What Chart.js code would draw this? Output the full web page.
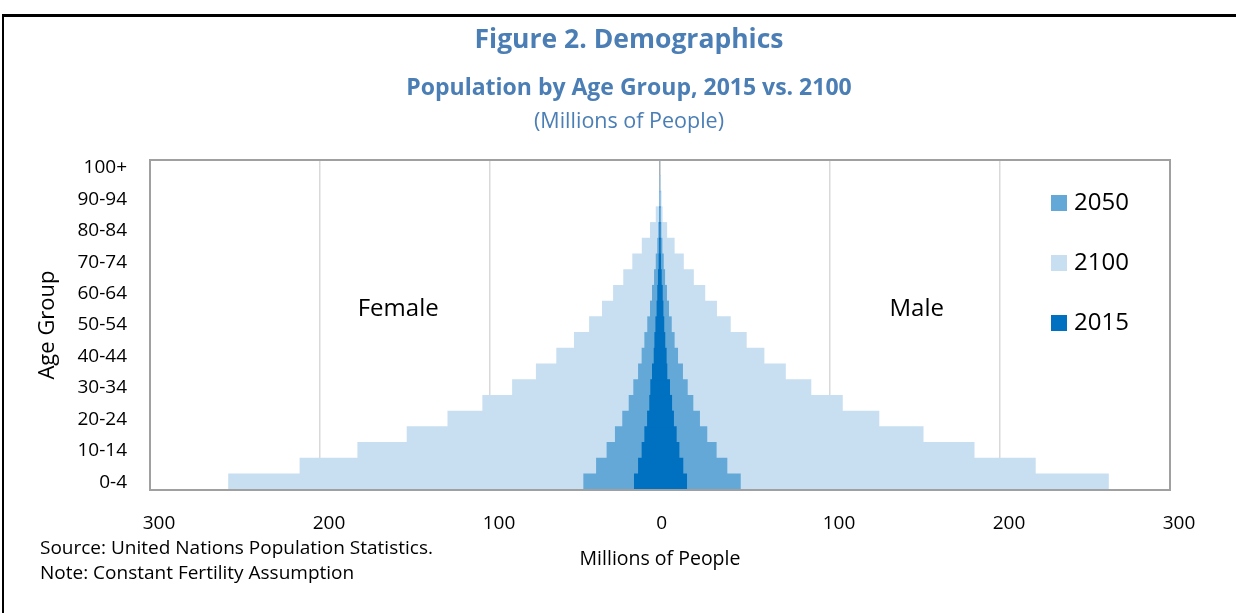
<!DOCTYPE html>
<html>
<head>
<meta charset="utf-8">
<script src="https://cdn.jsdelivr.net/npm/chart.js@4"></script>
<style>
  body { margin: 0; background: #fff; }
  canvas { display: block; }
</style>
</head>
<body>
<canvas id="myChart" width="1236" height="613"></canvas>
<script>
// age groups, bottom row first
var ageGroups = ['0-4', '5-9', '10-14', '15-19', '20-24', '25-29', '30-34', '35-39', '40-44', '45-49',
    '50-54', '55-59', '60-64', '65-69', '70-74', '75-79', '80-84', '85-89', '90-94', '95-99', '100+'];

var xTicks = [-300, -200, -100, 0, 100, 200, 300];

// millions of people
var female2100 = [254, 212, 178, 149, 125, 104.5, 87, 73, 61, 50.6, 41.7, 34.1, 27.6, 21.6, 16.3, 10.7, 5.9, 2.5, 0.6, 0.2, 0.05];
var male2100   = [264, 221, 185, 155, 129, 107.5, 89, 74, 61.4, 51, 41.6, 33.5, 26.6, 19.9, 14, 8.6, 4.2, 1.5, 0.9, 0.3, 0.05];

var female2050 = [45.1, 37.6, 31.4, 26.5, 22.2, 18.4, 15.7, 12.9, 10.8, 9.2, 7.5, 5.9, 4.7, 3.5, 2.5, 1.6, 1.0, 0.5, 0.3, 0.1, 0.02];
var male2050   = [47.5, 39.6, 33.3, 27.8, 23.5, 19.6, 16.3, 13.5, 10.6, 8.6, 6.9, 5.3, 4.1, 3.0, 2.2, 1.4, 0.8, 0.4, 0.2, 0.1, 0.02];

var female2015 = [15.3, 12.9, 10.8, 9.2, 7.6, 6.3, 5.7, 4.7, 3.7, 3.3, 2.7, 2.0, 1.6, 1.2, 0.8, 0.5, 0.3, 0.15, 0.05, 0.02, 0.01];
var male2015   = [15.9, 13.7, 11.4, 9.8, 8.2, 7.1, 5.9, 4.3, 3.9, 3.1, 2.5, 2.0, 1.6, 1.0, 0.6, 0.4, 0.2, 0.1, 0.05, 0.02, 0.01];

var titleBlue = '#4a7eb5';

// female goes to the left, male to the right
function pyramid(female, male) {
    return female.map(function (f, i) { return [-f, male[i]]; });
}

Chart.defaults.font.family = "'Open Sans', sans-serif";
Chart.defaults.color = '#000';

// titles, frame, legend and side notes
var extras = {
    id: 'extras',
    afterDraw: function (chart) {
        var c = chart.ctx;
        var a = chart.chartArea;
        var xs = chart.scales.x;
        var ys = chart.scales.y;
        c.save();

        // outer box
        c.fillStyle = '#000';
        c.fillRect(2, 14, 1234, 3);
        c.fillRect(2, 14, 2, 599);

        // plot frame
        c.strokeStyle = '#a0a0a0';
        c.lineWidth = 2;
        c.strokeRect(a.left, a.top, a.right - a.left, a.bottom - a.top);

        // titles
        c.textAlign = 'center';
        c.textBaseline = 'middle';
        c.fillStyle = titleBlue;
        c.font = "bold 26.5px 'Open Sans', sans-serif";
        c.fillText('Figure 2. Demographics', 629, 40);
        c.font = "bold 23px 'Open Sans', sans-serif";
        c.fillText('Population by Age Group, 2015 vs. 2100', 629, 88);
        c.font = "21.5px 'Open Sans', sans-serif";
        c.fillText('(Millions of People)', 629, 122);

        // side labels
        c.fillStyle = '#000';
        c.font = "24px 'Open Sans', sans-serif";
        c.fillText('Female', xs.getPixelForValue(-154), ys.getPixelForValue(11));
        c.fillText('Male', xs.getPixelForValue(151), ys.getPixelForValue(11));

        // legend
        c.textAlign = 'left';
        chart.data.datasets.forEach(function (ds, i) {
            var y = a.top + 43 + i * 60;
            c.fillStyle = ds.backgroundColor;
            c.fillRect(1051, y - 8, 16, 16);
            c.fillStyle = '#000';
            c.fillText(ds.label, 1074, y);
        });

        // notes
        c.font = "19px 'Open Sans', sans-serif";
        c.fillText('Source: United Nations Population Statistics.', 40, a.bottom + 59);
        c.fillText('Note: Constant Fertility Assumption', 40, a.bottom + 84);
        c.restore();
    }
};

var ctx = document.getElementById('myChart').getContext('2d');
var myChart = new Chart(ctx, {
    type: 'bar',
    data: {
        labels: ageGroups,
        datasets: [{
            label: '2050',
            data: pyramid(female2050, male2050),
            backgroundColor: '#64a8d8',
            order: 2
        }, {
            label: '2100',
            data: pyramid(female2100, male2100),
            backgroundColor: '#c8dff1',
            order: 3
        }, {
            label: '2015',
            data: pyramid(female2015, male2015),
            backgroundColor: '#0070c0',
            order: 1
        }]
    },
    options: {
        indexAxis: 'y',
        responsive: false,
        animation: false,
        layout: {
            padding: { left: 0, top: 160, right: 66, bottom: 33 }
        },
        datasets: {
            bar: {
                grouped: false,
                barPercentage: 1.1,
                categoryPercentage: 1,
                borderWidth: 0
            }
        },
        plugins: {
            legend: { display: false },
            tooltip: { enabled: false }
        },
        scales: {
            x: {
                min: xTicks[0],
                max: xTicks[xTicks.length - 1],
                z: 1,
                afterBuildTicks: function (scale) {
                    scale.ticks = xTicks.map(function (v) { return { value: v }; });
                },
                afterFit: function (scale) { scale.height = 90; },
                border: { display: false },
                grid: {
                    drawTicks: false,
                    lineWidth: 1.5,
                    color: function (c) {
                        return c.tick && c.tick.value === 0 ? 'rgba(0,0,0,0.33)' : 'rgba(0,0,0,0.15)';
                    }
                },
                ticks: {
                    padding: 22,
                    labelOffset: 9,
                    font: { size: 19 },
                    callback: function (v) { return v === 0 ? '0   ' : String(Math.abs(v)); }
                },
                title: {
                    display: true,
                    text: 'Millions of People',
                    font: { size: 19.5 },
                    padding: { top: 0, bottom: 9 }
                }
            },
            y: {
                reverse: true,
                afterFit: function (scale) { scale.width = 150; },
                border: { display: false },
                grid: { display: false, drawTicks: false },
                ticks: {
                    autoSkip: false,
                    padding: 23,
                    font: { size: 19 },
                    callback: function (v) { return v % 2 === 0 ? ageGroups[v] : ''; }
                },
                title: {
                    display: true,
                    text: 'Age Group',
                    font: { size: 22 },
                    padding: { top: 35, bottom: 0 }
                }
            }
        }
    },
    plugins: [extras]
});
</script>
</body>
</html>
